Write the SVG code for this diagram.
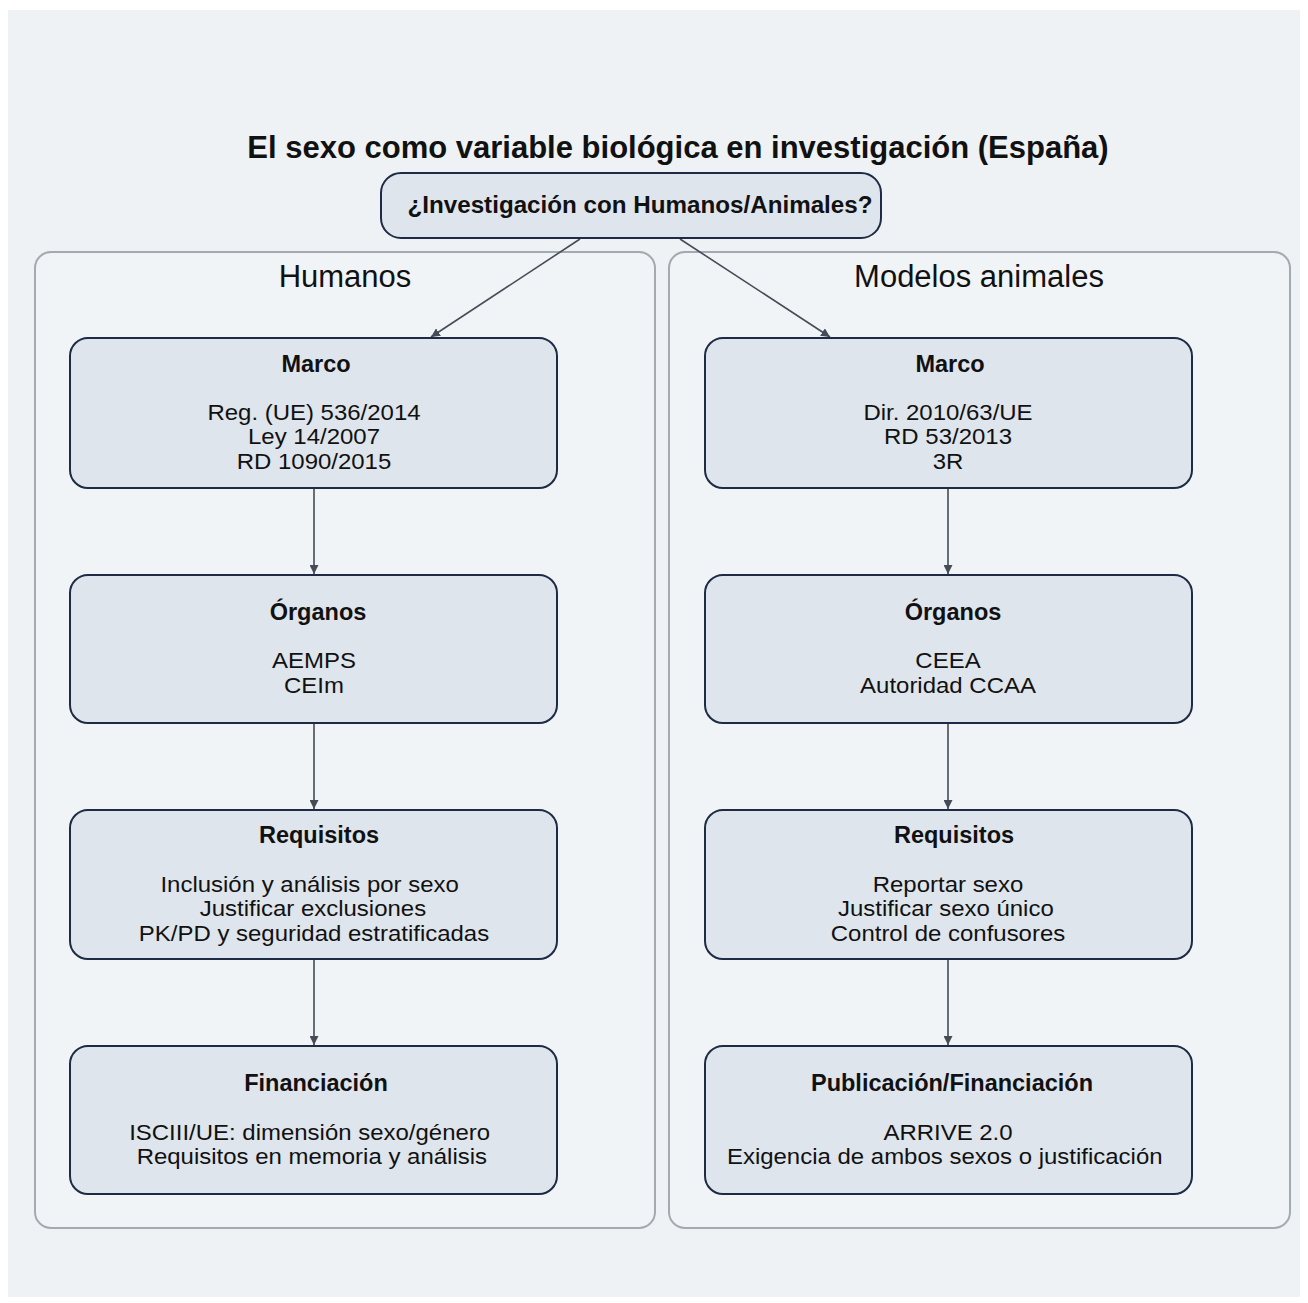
<svg xmlns="http://www.w3.org/2000/svg" width="1308" height="1303" viewBox="0 0 1308 1303">
<style>
.bg{fill:#eef2f4}
.cluster{fill:#f1f4f6;stroke:#a4abb0;stroke-width:2}
.node{fill:#dfe5ec;stroke:#1f2b45;stroke-width:2}
.ct{font-family:"Liberation Sans",Arial,sans-serif;font-size:31px;fill:#111;text-anchor:middle}
.t{font-family:"Liberation Sans",Arial,sans-serif;font-size:23.5px;font-weight:bold;fill:#111;text-anchor:middle}
.b{font-family:"Liberation Sans",Arial,sans-serif;font-size:22px;fill:#111;text-anchor:middle}
.edge{stroke:#444c57;stroke-width:1.6;fill:none;marker-end:url(#arr)}
</style>
<defs>
<marker id="arr" viewBox="0 0 10 10" refX="10" refY="5" markerWidth="9" markerHeight="9" markerUnits="userSpaceOnUse" orient="auto">
<path d="M0,0 L10,5 L0,10 z" fill="#444c57"/>
</marker>
</defs>
<rect x="0" y="0" width="1308" height="1303" fill="#ffffff"/>
<rect class="bg" x="8" y="10" width="1292" height="1287"/>
<text x="678" y="158" font-family="Liberation Sans,Arial,sans-serif" font-size="31" font-weight="bold" fill="#111" text-anchor="middle">El sexo como variable biológica en investigación (España)</text>
<g id="cluster-humanos">
<rect class="cluster" x="35" y="252" width="620" height="976" rx="16"/>
<text class="ct" x="345" y="287">Humanos</text>
</g>
<g id="cluster-animales">
<rect class="cluster" x="669" y="252" width="621" height="976" rx="16"/>
<text class="ct" x="979" y="287">Modelos animales</text>
</g>
<g id="connectors">
<line class="edge" x1="580" y1="239" x2="431" y2="337"/>
<line class="edge" x1="680" y1="239" x2="830" y2="337"/>
<line class="edge" x1="314" y1="488" x2="314" y2="574"/>
<line class="edge" x1="314" y1="723" x2="314" y2="809"/>
<line class="edge" x1="314" y1="959" x2="314" y2="1045"/>
<line class="edge" x1="948" y1="488" x2="948" y2="574"/>
<line class="edge" x1="948" y1="723" x2="948" y2="809"/>
<line class="edge" x1="948" y1="959" x2="948" y2="1045"/>
</g>
<g id="start">
<rect class="node" x="381" y="173" width="500" height="65" rx="20"/>
<text x="640" y="213" font-family="Liberation Sans,Arial,sans-serif" font-size="24.2" font-weight="bold" fill="#111" text-anchor="middle">¿Investigación con Humanos/Animales?</text>
</g>
<g id="h-marco">
<rect class="node" x="70" y="338" width="487" height="150" rx="18"/>
<text class="t" x="316" y="372">Marco</text>
<g transform="translate(314,0) scale(1.09,1)">
<text class="b" x="0" y="420">Reg. (UE) 536/2014</text>
<text class="b" x="0" y="444">Ley 14/2007</text>
<text class="b" x="0" y="469">RD 1090/2015</text>
</g>
</g>
<g id="h-organos">
<rect class="node" x="70" y="575" width="487" height="148" rx="18"/>
<text class="t" x="318" y="620">Órganos</text>
<g transform="translate(314,0) scale(1.09,1)">
<text class="b" x="0" y="668">AEMPS</text>
<text class="b" x="0" y="693">CEIm</text>
</g>
</g>
<g id="h-requisitos">
<rect class="node" x="70" y="810" width="487" height="149" rx="18"/>
<text class="t" x="319" y="843">Requisitos</text>
<g transform="translate(314,0) scale(1.09,1)">
<text class="b" x="-4" y="892">Inclusión y análisis por sexo</text>
<text class="b" x="-1" y="916">Justificar exclusiones</text>
<text class="b" x="0" y="941">PK/PD y seguridad estratificadas</text>
</g>
</g>
<g id="h-financiacion">
<rect class="node" x="70" y="1046" width="487" height="148" rx="18"/>
<text class="t" x="316" y="1091">Financiación</text>
<g transform="translate(314,0) scale(1.09,1)">
<text class="b" x="-4" y="1140">ISCIII/UE: dimensión sexo/género</text>
<text class="b" x="-2" y="1164">Requisitos en memoria y análisis</text>
</g>
</g>
<g id="a-marco">
<rect class="node" x="705" y="338" width="487" height="150" rx="18"/>
<text class="t" x="950" y="372">Marco</text>
<g transform="translate(948,0) scale(1.09,1)">
<text class="b" x="0" y="420">Dir. 2010/63/UE</text>
<text class="b" x="0" y="444">RD 53/2013</text>
<text class="b" x="0" y="469">3R</text>
</g>
</g>
<g id="a-organos">
<rect class="node" x="705" y="575" width="487" height="148" rx="18"/>
<text class="t" x="953" y="620">Órganos</text>
<g transform="translate(948,0) scale(1.09,1)">
<text class="b" x="0" y="668">CEEA</text>
<text class="b" x="0" y="693">Autoridad CCAA</text>
</g>
</g>
<g id="a-requisitos">
<rect class="node" x="705" y="810" width="487" height="149" rx="18"/>
<text class="t" x="954" y="843">Requisitos</text>
<g transform="translate(948,0) scale(1.09,1)">
<text class="b" x="0" y="892">Reportar sexo</text>
<text class="b" x="-2" y="916">Justificar sexo único</text>
<text class="b" x="0" y="941">Control de confusores</text>
</g>
</g>
<g id="a-publicacion">
<rect class="node" x="705" y="1046" width="487" height="148" rx="18"/>
<text class="t" x="952" y="1091">Publicación/Financiación</text>
<g transform="translate(948,0) scale(1.09,1)">
<text class="b" x="0" y="1140">ARRIVE 2.0</text>
<text class="b" x="-3" y="1164">Exigencia de ambos sexos o justificación</text>
</g>
</g>
</svg>
